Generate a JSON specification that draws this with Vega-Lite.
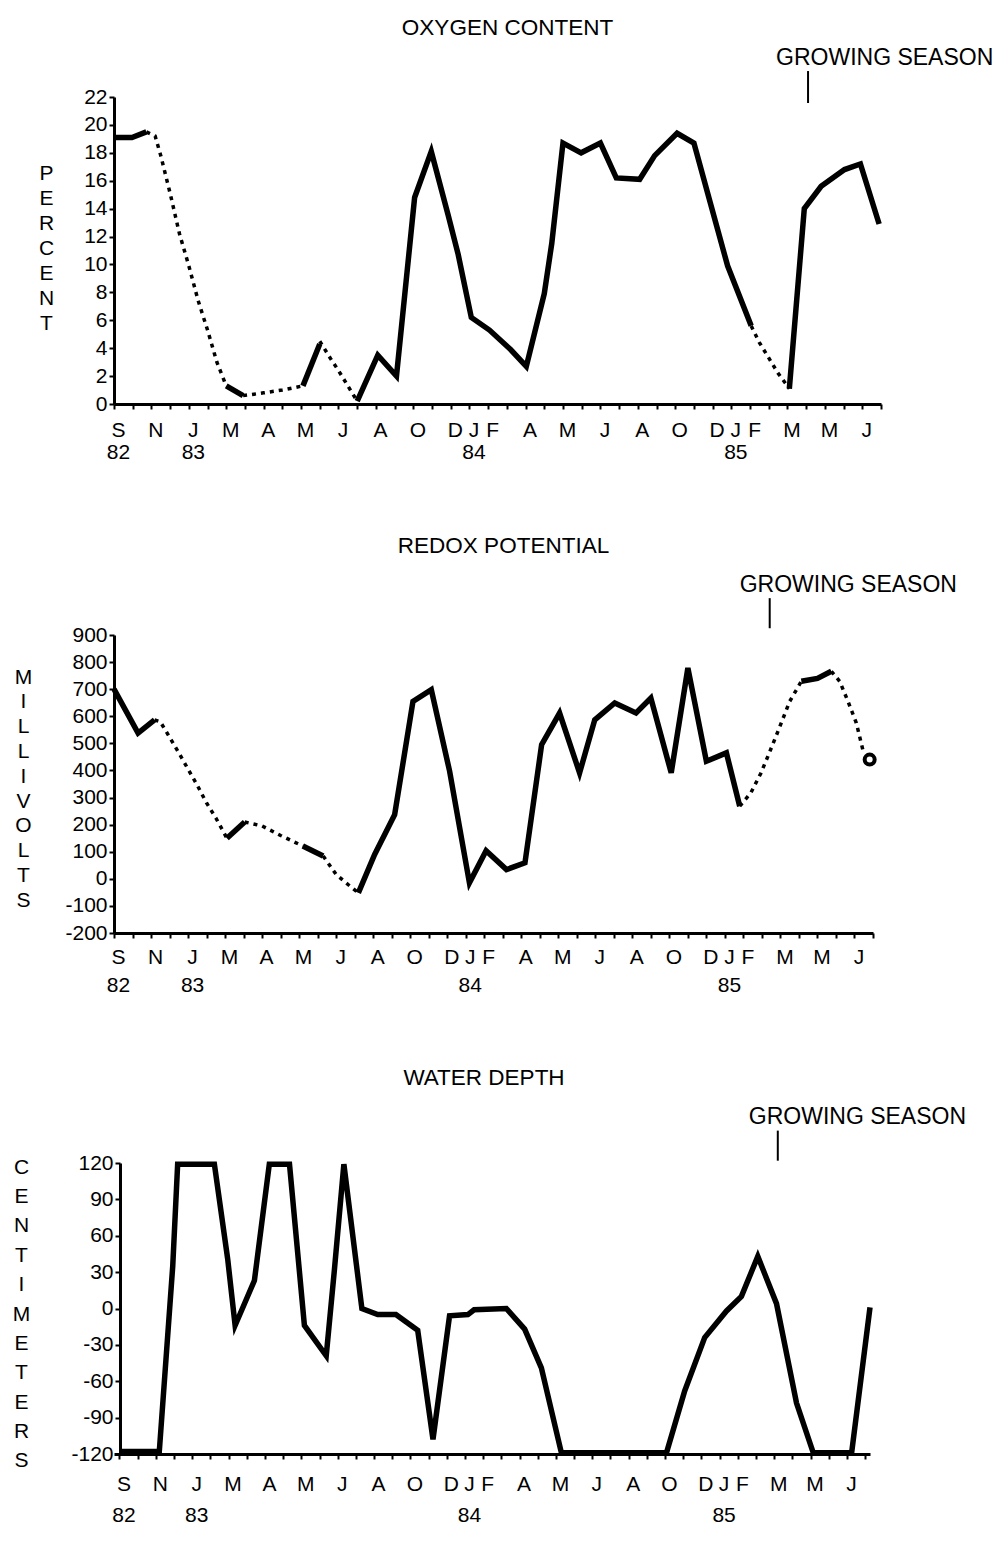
{
  "$schema": "https://vega.github.io/schema/vega-lite/v6.json",
  "background": "white",
  "padding": {"left": 12, "top": 16, "right": 0, "bottom": 0},
  "spacing": 72,
  "config": {
    "view": {"stroke": null},
    "font": "Liberation Sans",
    "axis": {
      "domainColor": "black", "domainWidth": 3, "tickColor": "black", "tickWidth": 2, "tickSize": 5,
      "labelColor": "black", "labelFont": "Liberation Sans", "labelFontSize": 21, "grid": false,
      "titleFont": "Liberation Sans", "titleFontSize": 21, "titleFontWeight": "normal", "titleColor": "black",
      "titleAngle": 0, "titleAlign": "center", "titleBaseline": "middle"
    },
    "title": {"font": "Liberation Sans", "fontSize": 22.5, "fontWeight": "normal", "color": "black", "anchor": "middle", "frame": "group"},
    "text": {"font": "Liberation Sans", "fontSize": 23, "color": "black"}
  },
  "datasets": {
    "oxygen": [
      {"t": 0, "value": 19.1, "seg": 1, "kind": "measured"},
      {"t": 0.96, "value": 19.1, "seg": 1, "kind": "measured"},
      {"t": 1.73, "value": 19.5, "seg": 1, "kind": "measured"},
      {"t": 1.73, "value": 19.5, "seg": 2, "kind": "interpolated"},
      {"t": 2.2, "value": 19.2, "seg": 2, "kind": "interpolated"},
      {"t": 2.5, "value": 17.8, "seg": 2, "kind": "interpolated"},
      {"t": 3.0, "value": 15.1, "seg": 2, "kind": "interpolated"},
      {"t": 3.5, "value": 12.2, "seg": 2, "kind": "interpolated"},
      {"t": 4.0, "value": 9.9, "seg": 2, "kind": "interpolated"},
      {"t": 4.5, "value": 7.4, "seg": 2, "kind": "interpolated"},
      {"t": 5.0, "value": 5.3, "seg": 2, "kind": "interpolated"},
      {"t": 5.5, "value": 3.0, "seg": 2, "kind": "interpolated"},
      {"t": 6.0, "value": 1.3, "seg": 2, "kind": "interpolated"},
      {"t": 6.0, "value": 1.3, "seg": 3, "kind": "measured"},
      {"t": 6.9, "value": 0.6, "seg": 3, "kind": "measured"},
      {"t": 6.9, "value": 0.6, "seg": 4, "kind": "interpolated"},
      {"t": 8.0, "value": 0.8, "seg": 4, "kind": "interpolated"},
      {"t": 9.0, "value": 1.0, "seg": 4, "kind": "interpolated"},
      {"t": 10.1, "value": 1.3, "seg": 4, "kind": "interpolated"},
      {"t": 10.1, "value": 1.3, "seg": 5, "kind": "measured"},
      {"t": 11.0, "value": 4.3, "seg": 5, "kind": "measured"},
      {"t": 11.0, "value": 4.5, "seg": 6, "kind": "interpolated"},
      {"t": 11.6, "value": 3.2, "seg": 6, "kind": "interpolated"},
      {"t": 12.0, "value": 2.4, "seg": 6, "kind": "interpolated"},
      {"t": 12.5, "value": 1.3, "seg": 6, "kind": "interpolated"},
      {"t": 13.0, "value": 0.2, "seg": 6, "kind": "interpolated"},
      {"t": 13.0, "value": 0.2, "seg": 7, "kind": "measured"},
      {"t": 14.1, "value": 3.5, "seg": 7, "kind": "measured"},
      {"t": 15.1, "value": 2.0, "seg": 7, "kind": "measured"},
      {"t": 16.07, "value": 14.8, "seg": 7, "kind": "measured"},
      {"t": 16.96, "value": 18.1, "seg": 7, "kind": "measured"},
      {"t": 17.85, "value": 13.6, "seg": 7, "kind": "measured"},
      {"t": 18.4, "value": 10.7, "seg": 7, "kind": "measured"},
      {"t": 19.1, "value": 6.2, "seg": 7, "kind": "measured"},
      {"t": 20.07, "value": 5.3, "seg": 7, "kind": "measured"},
      {"t": 21.2, "value": 3.9, "seg": 7, "kind": "measured"},
      {"t": 22.04, "value": 2.7, "seg": 7, "kind": "measured"},
      {"t": 23.0, "value": 7.9, "seg": 7, "kind": "measured"},
      {"t": 23.4, "value": 11.5, "seg": 7, "kind": "measured"},
      {"t": 24.0, "value": 18.7, "seg": 7, "kind": "measured"},
      {"t": 24.97, "value": 18.0, "seg": 7, "kind": "measured"},
      {"t": 26.0, "value": 18.7, "seg": 7, "kind": "measured"},
      {"t": 26.85, "value": 16.2, "seg": 7, "kind": "measured"},
      {"t": 28.1, "value": 16.1, "seg": 7, "kind": "measured"},
      {"t": 28.9, "value": 17.8, "seg": 7, "kind": "measured"},
      {"t": 30.1, "value": 19.4, "seg": 7, "kind": "measured"},
      {"t": 31.0, "value": 18.7, "seg": 7, "kind": "measured"},
      {"t": 31.9, "value": 14.3, "seg": 7, "kind": "measured"},
      {"t": 32.8, "value": 9.9, "seg": 7, "kind": "measured"},
      {"t": 34.06, "value": 5.6, "seg": 7, "kind": "measured"},
      {"t": 34.06, "value": 5.6, "seg": 8, "kind": "interpolated"},
      {"t": 34.5, "value": 4.4, "seg": 8, "kind": "interpolated"},
      {"t": 35.0, "value": 3.3, "seg": 8, "kind": "interpolated"},
      {"t": 35.5, "value": 2.2, "seg": 8, "kind": "interpolated"},
      {"t": 36.1, "value": 1.1, "seg": 8, "kind": "interpolated"},
      {"t": 36.1, "value": 1.1, "seg": 9, "kind": "measured"},
      {"t": 36.9, "value": 14.0, "seg": 9, "kind": "measured"},
      {"t": 37.8, "value": 15.6, "seg": 9, "kind": "measured"},
      {"t": 39.05, "value": 16.8, "seg": 9, "kind": "measured"},
      {"t": 39.9, "value": 17.2, "seg": 9, "kind": "measured"},
      {"t": 40.9, "value": 12.9, "seg": 9, "kind": "measured"}
    ],
    "oxygen_season": [
      {"t": 37.1, "value": 23.86, "value2": 21.57, "label": "GROWING SEASON"}
    ],
    "redox": [
      {"t": 0, "value": 700, "seg": 1, "kind": "measured"},
      {"t": 1.3, "value": 538, "seg": 1, "kind": "measured"},
      {"t": 2.19, "value": 587, "seg": 1, "kind": "measured"},
      {"t": 2.19, "value": 587, "seg": 2, "kind": "interpolated"},
      {"t": 2.5, "value": 580, "seg": 2, "kind": "interpolated"},
      {"t": 3.0, "value": 523, "seg": 2, "kind": "interpolated"},
      {"t": 3.5, "value": 465, "seg": 2, "kind": "interpolated"},
      {"t": 4.0, "value": 405, "seg": 2, "kind": "interpolated"},
      {"t": 4.5, "value": 345, "seg": 2, "kind": "interpolated"},
      {"t": 5.0, "value": 280, "seg": 2, "kind": "interpolated"},
      {"t": 5.5, "value": 225, "seg": 2, "kind": "interpolated"},
      {"t": 6.1, "value": 150, "seg": 2, "kind": "interpolated"},
      {"t": 6.1, "value": 150, "seg": 3, "kind": "measured"},
      {"t": 7.06, "value": 210, "seg": 3, "kind": "measured"},
      {"t": 7.06, "value": 210, "seg": 4, "kind": "interpolated"},
      {"t": 8.0, "value": 195, "seg": 4, "kind": "interpolated"},
      {"t": 9.0, "value": 160, "seg": 4, "kind": "interpolated"},
      {"t": 10.2, "value": 121, "seg": 4, "kind": "interpolated"},
      {"t": 10.2, "value": 121, "seg": 5, "kind": "measured"},
      {"t": 11.3, "value": 84, "seg": 5, "kind": "measured"},
      {"t": 11.3, "value": 84, "seg": 6, "kind": "interpolated"},
      {"t": 12.0, "value": 16, "seg": 6, "kind": "interpolated"},
      {"t": 12.64, "value": -21, "seg": 6, "kind": "interpolated"},
      {"t": 13.2, "value": -52, "seg": 6, "kind": "interpolated"},
      {"t": 13.2, "value": -52, "seg": 7, "kind": "measured"},
      {"t": 14.08, "value": 90, "seg": 7, "kind": "measured"},
      {"t": 15.16, "value": 237, "seg": 7, "kind": "measured"},
      {"t": 16.15, "value": 655, "seg": 7, "kind": "measured"},
      {"t": 17.14, "value": 698, "seg": 7, "kind": "measured"},
      {"t": 18.13, "value": 397, "seg": 7, "kind": "measured"},
      {"t": 19.2, "value": -15, "seg": 7, "kind": "measured"},
      {"t": 20.1, "value": 104, "seg": 7, "kind": "measured"},
      {"t": 21.2, "value": 34, "seg": 7, "kind": "measured"},
      {"t": 22.2, "value": 59, "seg": 7, "kind": "measured"},
      {"t": 23.1, "value": 495, "seg": 7, "kind": "measured"},
      {"t": 24.07, "value": 612, "seg": 7, "kind": "measured"},
      {"t": 25.15, "value": 391, "seg": 7, "kind": "measured"},
      {"t": 25.97, "value": 587, "seg": 7, "kind": "measured"},
      {"t": 27.05, "value": 649, "seg": 7, "kind": "measured"},
      {"t": 28.2, "value": 612, "seg": 7, "kind": "measured"},
      {"t": 29.0, "value": 667, "seg": 7, "kind": "measured"},
      {"t": 30.1, "value": 391, "seg": 7, "kind": "measured"},
      {"t": 31.0, "value": 778, "seg": 7, "kind": "measured"},
      {"t": 32.0, "value": 434, "seg": 7, "kind": "measured"},
      {"t": 33.08, "value": 465, "seg": 7, "kind": "measured"},
      {"t": 33.8, "value": 268, "seg": 7, "kind": "measured"},
      {"t": 33.8, "value": 268, "seg": 8, "kind": "interpolated"},
      {"t": 34.4, "value": 317, "seg": 8, "kind": "interpolated"},
      {"t": 34.93, "value": 388, "seg": 8, "kind": "interpolated"},
      {"t": 35.4, "value": 465, "seg": 8, "kind": "interpolated"},
      {"t": 35.87, "value": 545, "seg": 8, "kind": "interpolated"},
      {"t": 36.5, "value": 655, "seg": 8, "kind": "interpolated"},
      {"t": 37.13, "value": 729, "seg": 8, "kind": "interpolated"},
      {"t": 37.13, "value": 729, "seg": 9, "kind": "measured"},
      {"t": 38.0, "value": 740, "seg": 9, "kind": "measured"},
      {"t": 38.75, "value": 766, "seg": 9, "kind": "measured"},
      {"t": 38.75, "value": 766, "seg": 10, "kind": "interpolated"},
      {"t": 39.2, "value": 729, "seg": 10, "kind": "interpolated"},
      {"t": 39.65, "value": 655, "seg": 10, "kind": "interpolated"},
      {"t": 40.1, "value": 575, "seg": 10, "kind": "interpolated"},
      {"t": 40.47, "value": 471, "seg": 10, "kind": "interpolated"},
      {"t": 40.82, "value": 440, "seg": 11, "kind": "marker"}
    ],
    "redox_season": [
      {"t": 35.42, "value": 1036, "value2": 925, "label": "GROWING SEASON"}
    ],
    "depth": [
      {"t": 0, "value": -118, "seg": 1, "kind": "measured"},
      {"t": 2.19, "value": -118, "seg": 1, "kind": "measured"},
      {"t": 2.93, "value": 35, "seg": 1, "kind": "measured"},
      {"t": 3.2, "value": 119, "seg": 1, "kind": "measured"},
      {"t": 5.22, "value": 119, "seg": 1, "kind": "measured"},
      {"t": 5.95, "value": 41, "seg": 1, "kind": "measured"},
      {"t": 6.36, "value": -14, "seg": 1, "kind": "measured"},
      {"t": 7.42, "value": 23, "seg": 1, "kind": "measured"},
      {"t": 8.24, "value": 119, "seg": 1, "kind": "measured"},
      {"t": 9.35, "value": 119, "seg": 1, "kind": "measured"},
      {"t": 10.17, "value": -14, "seg": 1, "kind": "measured"},
      {"t": 11.37, "value": -39, "seg": 1, "kind": "measured"},
      {"t": 11.82, "value": 32, "seg": 1, "kind": "measured"},
      {"t": 12.34, "value": 119, "seg": 1, "kind": "measured"},
      {"t": 13.33, "value": 0, "seg": 1, "kind": "measured"},
      {"t": 14.2, "value": -5, "seg": 1, "kind": "measured"},
      {"t": 15.2, "value": -5, "seg": 1, "kind": "measured"},
      {"t": 16.4, "value": -18, "seg": 1, "kind": "measured"},
      {"t": 17.24, "value": -108, "seg": 1, "kind": "measured"},
      {"t": 18.15, "value": -6, "seg": 1, "kind": "measured"},
      {"t": 19.16, "value": -5, "seg": 1, "kind": "measured"},
      {"t": 19.5, "value": -1, "seg": 1, "kind": "measured"},
      {"t": 21.27, "value": 0, "seg": 1, "kind": "measured"},
      {"t": 22.28, "value": -17, "seg": 1, "kind": "measured"},
      {"t": 23.2, "value": -49, "seg": 1, "kind": "measured"},
      {"t": 24.3, "value": -119, "seg": 1, "kind": "measured"},
      {"t": 30.08, "value": -119, "seg": 1, "kind": "measured"},
      {"t": 31.08, "value": -68, "seg": 1, "kind": "measured"},
      {"t": 32.18, "value": -24, "seg": 1, "kind": "measured"},
      {"t": 33.38, "value": -2, "seg": 1, "kind": "measured"},
      {"t": 34.2, "value": 10, "seg": 1, "kind": "measured"},
      {"t": 35.1, "value": 43, "seg": 1, "kind": "measured"},
      {"t": 36.13, "value": 4, "seg": 1, "kind": "measured"},
      {"t": 37.23, "value": -78, "seg": 1, "kind": "measured"},
      {"t": 38.15, "value": -119, "seg": 1, "kind": "measured"},
      {"t": 40.26, "value": -119, "seg": 1, "kind": "measured"},
      {"t": 41.27, "value": 1, "seg": 1, "kind": "measured"}
    ],
    "depth_season": [
      {"t": 36.2, "value": 146.7, "value2": 121.9, "label": "GROWING SEASON"}
    ]
  },
  "vconcat": [
    {
      "width": 767,
      "height": 307,
      "title": {"text": "OXYGEN CONTENT", "dx": 10, "offset": 8},
      "encoding": {
        "x": {"field": "t", "type": "quantitative",
          "scale": {"domain": [0, 41], "nice": false, "zero": false},
          "axis": {"values": [0,1,2,3,4,5,6,7,8,9,10,11,12,13,14,15,16,17,18,19,20,21,22,23,24,25,26,27,28,29,30,31,32,33,34,35,36,37,38,39,40,41],
            "labelExpr": "datum.value===0?['S','82']:datum.value===4?['J','83']:datum.value===19?['J','84']:datum.value===33?['J','85']:(({'2':'N','6':'M','8':'A','10':'M','12':'J','14':'A','16':'O','18':'D','20':'F','22':'A','24':'M','26':'J','28':'A','30':'O','32':'D','34':'F','36':'M','38':'M','40':'J'})[datum.value]||'')",
            "labelOverlap": false, "labelFlush": false, "labelOffset": 4, "labelPadding": 10, "labelBaseline": "top", "labelLineHeight": 22, "title": null}},
        "y": {"field": "value", "type": "quantitative",
          "scale": {"domain": [0, 22], "nice": false},
          "axis": {"values": [0,2,4,6,8,10,12,14,16,18,20,22], "labelPadding": 2, "labelExpr": "'' + datum.value",
            "title": ["P","E","R","C","E","N","T"], "titleX": -68, "titleY": 76, "titleLineHeight": 25}}
      },
      "layer": [
        {"data": {"name": "oxygen"}, "transform": [{"filter": "datum.kind === 'measured'"}],
          "mark": {"type": "line", "color": "black", "strokeWidth": 5.5},
          "encoding": {"detail": {"field": "seg"}, "order": {"field": "t"}}},
        {"data": {"name": "oxygen"}, "transform": [{"filter": "datum.kind === 'interpolated'"}],
          "mark": {"type": "line", "color": "black", "strokeWidth": 3.5, "strokeDash": [4, 5]},
          "encoding": {"detail": {"field": "seg"}, "order": {"field": "t"}}},
        {"data": {"name": "oxygen_season"},
          "mark": {"type": "rule", "color": "black", "strokeWidth": 2, "clip": false},
          "encoding": {"y2": {"field": "value2"}}},
        {"data": {"name": "oxygen_season"},
          "mark": {"type": "text", "align": "left", "baseline": "middle", "dx": -32, "dy": -13, "clip": false},
          "encoding": {"text": {"field": "label"}}}
      ]
    },
    {
      "width": 759,
      "height": 298,
      "title": {"text": "REDOX POTENTIAL", "dx": 10, "offset": 17},
      "encoding": {
        "x": {"field": "t", "type": "quantitative",
          "scale": {"domain": [0, 41], "nice": false, "zero": false},
          "axis": {"values": [0,1,2,3,4,5,6,7,8,9,10,11,12,13,14,15,16,17,18,19,20,21,22,23,24,25,26,27,28,29,30,31,32,33,34,35,36,37,38,39,40,41],
            "labelExpr": "datum.value===0?['S','82']:datum.value===4?['J','83']:datum.value===19?['J','84']:datum.value===33?['J','85']:(({'2':'N','6':'M','8':'A','10':'M','12':'J','14':'A','16':'O','18':'D','20':'F','22':'A','24':'M','26':'J','28':'A','30':'O','32':'D','34':'F','36':'M','38':'M','40':'J'})[datum.value]||'')",
            "labelOverlap": false, "labelFlush": false, "labelOffset": 4, "labelPadding": 8, "labelBaseline": "top", "labelLineHeight": 28, "title": null}},
        "y": {"field": "value", "type": "quantitative",
          "scale": {"domain": [-200, 900], "nice": false, "zero": false},
          "axis": {"values": [-200,-100,0,100,200,300,400,500,600,700,800,900], "labelPadding": 2, "labelExpr": "'' + datum.value",
            "title": ["M","I","L","L","I","V","O","L","T","S"], "titleX": -91, "titleY": 42, "titleLineHeight": 24.8}}
      },
      "layer": [
        {"mark": {"type": "rule", "color": "black", "strokeWidth": 2},
          "encoding": {"y": {"datum": 300}}},
        {"data": {"name": "redox"}, "transform": [{"filter": "datum.kind === 'measured'"}],
          "mark": {"type": "line", "color": "black", "strokeWidth": 5.5},
          "encoding": {"detail": {"field": "seg"}, "order": {"field": "t"}}},
        {"data": {"name": "redox"}, "transform": [{"filter": "datum.kind === 'interpolated'"}],
          "mark": {"type": "line", "color": "black", "strokeWidth": 3.5, "strokeDash": [4, 5]},
          "encoding": {"detail": {"field": "seg"}, "order": {"field": "t"}}},
        {"data": {"name": "redox"}, "transform": [{"filter": "datum.kind === 'marker'"}],
          "mark": {"type": "point", "filled": false, "color": "black", "strokeWidth": 4, "size": 100, "opacity": 1}},
        {"data": {"name": "redox_season"},
          "mark": {"type": "rule", "color": "black", "strokeWidth": 2, "clip": false},
          "encoding": {"y2": {"field": "value2"}}},
        {"data": {"name": "redox_season"},
          "mark": {"type": "text", "align": "left", "baseline": "middle", "dx": -30, "dy": -13, "clip": false},
          "encoding": {"text": {"field": "label"}}}
      ]
    },
    {
      "width": 756,
      "height": 291,
      "title": {"text": "WATER DEPTH", "dx": -8, "offset": 16},
      "encoding": {
        "x": {"field": "t", "type": "quantitative",
          "scale": {"domain": [-0.3, 41.27], "nice": false, "zero": false},
          "axis": {"values": [0,1,2,3,4,5,6,7,8,9,10,11,12,13,14,15,16,17,18,19,20,21,22,23,24,25,26,27,28,29,30,31,32,33,34,35,36,37,38,39,40,41],
            "labelExpr": "datum.value===0?['S','82']:datum.value===4?['J','83']:datum.value===19?['J','84']:datum.value===33?['J','85']:(({'2':'N','6':'M','8':'A','10':'M','12':'J','14':'A','16':'O','18':'D','20':'F','22':'A','24':'M','26':'J','28':'A','30':'O','32':'D','34':'F','36':'M','38':'M','40':'J'})[datum.value]||'')",
            "labelOverlap": false, "labelFlush": false, "labelOffset": 4, "labelPadding": 14, "labelBaseline": "top", "labelLineHeight": 31, "title": null}},
        "y": {"field": "value", "type": "quantitative",
          "scale": {"domain": [-120, 120], "nice": false, "zero": false},
          "axis": {"values": [-120,-90,-60,-30,0,30,60,90,120], "labelPadding": 2, "labelExpr": "'' + datum.value", "offset": -6,
            "title": ["C","E","N","T","I","M","E","T","E","R","S"], "titleX": -99, "titleY": 4, "titleLineHeight": 29.4}}
      },
      "layer": [
        {"mark": {"type": "rule", "color": "black", "strokeWidth": 2},
          "encoding": {"y": {"datum": 0}}},
        {"data": {"name": "depth"},
          "mark": {"type": "line", "color": "black", "strokeWidth": 5.5},
          "encoding": {"detail": {"field": "seg"}, "order": {"field": "t"}}},
        {"data": {"name": "depth_season"},
          "mark": {"type": "rule", "color": "black", "strokeWidth": 2, "clip": false},
          "encoding": {"y2": {"field": "value2"}}},
        {"data": {"name": "depth_season"},
          "mark": {"type": "text", "align": "left", "baseline": "middle", "dx": -29, "dy": -14, "clip": false},
          "encoding": {"text": {"field": "label"}}}
      ]
    }
  ]
}
